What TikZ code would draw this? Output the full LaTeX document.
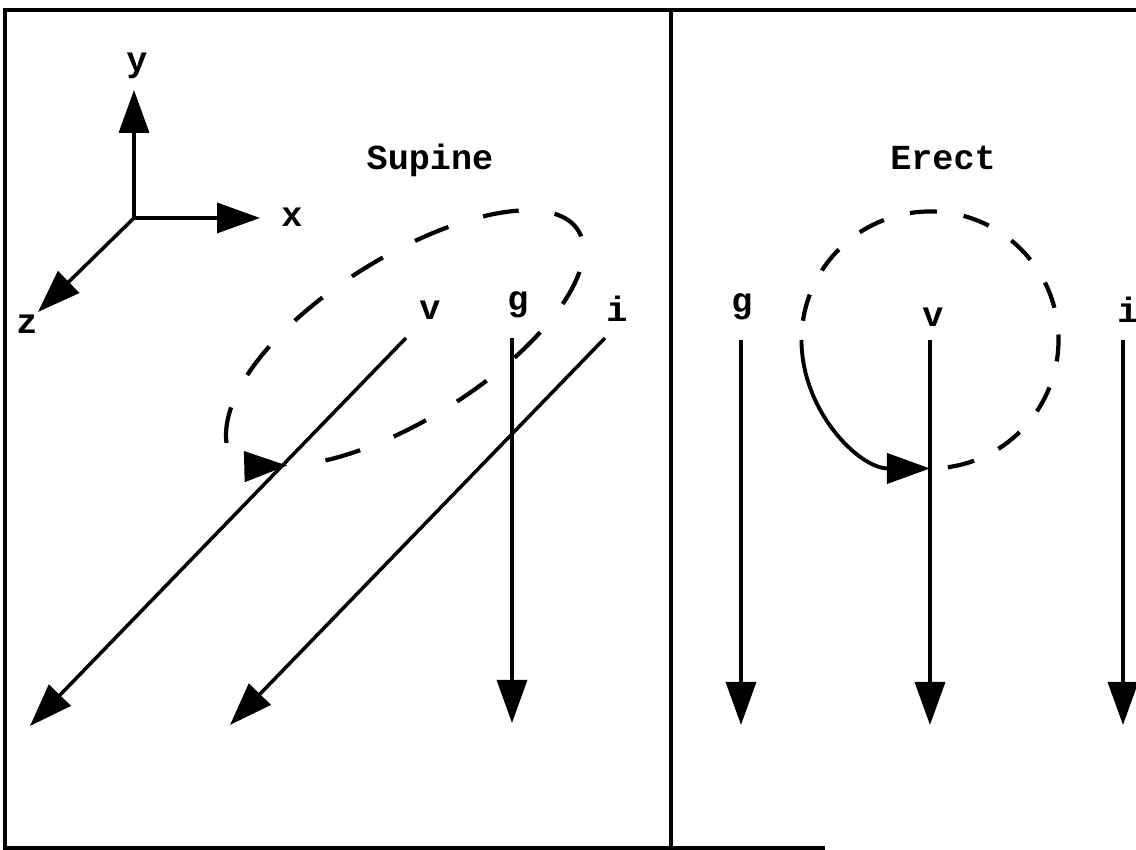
\documentclass[tikz,border=0pt]{standalone}
\usepackage{fontspec}
\setmonofont{Liberation Mono}
\usetikzlibrary{arrows.meta,positioning}

\begin{document}
\begin{tikzpicture}[
  vec/.style={-{Triangle[length=4.3mm, width=3mm]}, line width=1pt},
  loopdash/.style={line width=1.2pt, dash pattern=on #1 off #1},
  lbl/.style={anchor=base, inner sep=0pt, font=\ttfamily\bfseries\fontsize{10}{12}\selectfont}
]
  \useasboundingbox (0,0) rectangle (11.36,8.5);

  % frame and divider
  \draw[line width=1pt] (11.4,8.40) -- (0.05,8.40) -- (0.05,0.02) -- (8.25,0.02);
  \draw[line width=0.9pt] (6.71,8.40) -- (6.71,0.02);

  % axes
  \coordinate (o)  at (1.34,6.32);
  \coordinate (ax) at (2.60,6.32);
  \coordinate (ay) at (1.34,7.60);
  \coordinate (az) at (0.38,5.38);
  \draw[vec] (o) -- (ax);
  \draw[vec] (o) -- (ay);
  \draw[vec] (o) -- (az);
  \node[lbl] (xl) at (2.92,6.23) {x};
  \node[lbl] (yl) at (1.37,7.78) {y};
  \node[lbl] (zl) at (0.27,5.16) {z};

  % supine
  \node[lbl] (supine) at (4.30,6.80) {Supine};
  \coordinate (sv)  at (4.06,5.12);
  \coordinate (sv2) at (0.30,1.24);
  \coordinate (sg)  at (5.12,5.12);
  \coordinate (sg2) at (5.12,1.27);
  \coordinate (si)  at (6.05,5.12);
  \coordinate (si2) at (2.30,1.25);
  \draw[vec] (sv) -- (sv2);
  \draw[vec] (sg) -- (sg2);
  \draw[vec] (si) -- (si2);
  \node[lbl] (svl) at (4.30,5.30) {v};
  \node[lbl] (sgl) at (5.18,5.39) {g};
  \node[lbl] (sil) at (6.17,5.28) {i};
  \begin{scope}[shift={(sv)}, rotate=32]
    \draw[vec, loopdash=10.3pt] (-131:2.03 and 0.81)
      arc[start angle=-131, end angle=214, x radius=2.03, y radius=0.81];
  \end{scope}

  % erect
  \node[lbl] (erect) at (9.43,6.80) {Erect};
  \coordinate (eg)  at (7.41,5.10);
  \coordinate (eg2) at (7.41,1.25);
  \coordinate (ev)  at (9.30,5.10);
  \coordinate (ev2) at (9.30,1.25);
  \coordinate (ei)  at (11.23,5.10);
  \coordinate (ei2) at (11.23,1.25);
  \draw[vec] (eg) -- (eg2);
  \draw[vec] (ev) -- (ev2);
  \draw[vec] (ei) -- (ei2);
  \node[lbl] (egl) at (7.42,5.37) {g};
  \node[lbl] (evl) at (9.33,5.23) {v};
  \node[lbl] (eil) at (11.28,5.27) {i};
  \draw[loopdash=7.7pt] ([shift={(-82:1.285)}]ev) arc[start angle=-82, end angle=172, radius=1.285];
  \draw[vec, line width=1.1pt] ([shift={(180:1.285)}]ev) arc[start angle=180, end angle=270, radius=1.285];
\end{tikzpicture}
\end{document}
